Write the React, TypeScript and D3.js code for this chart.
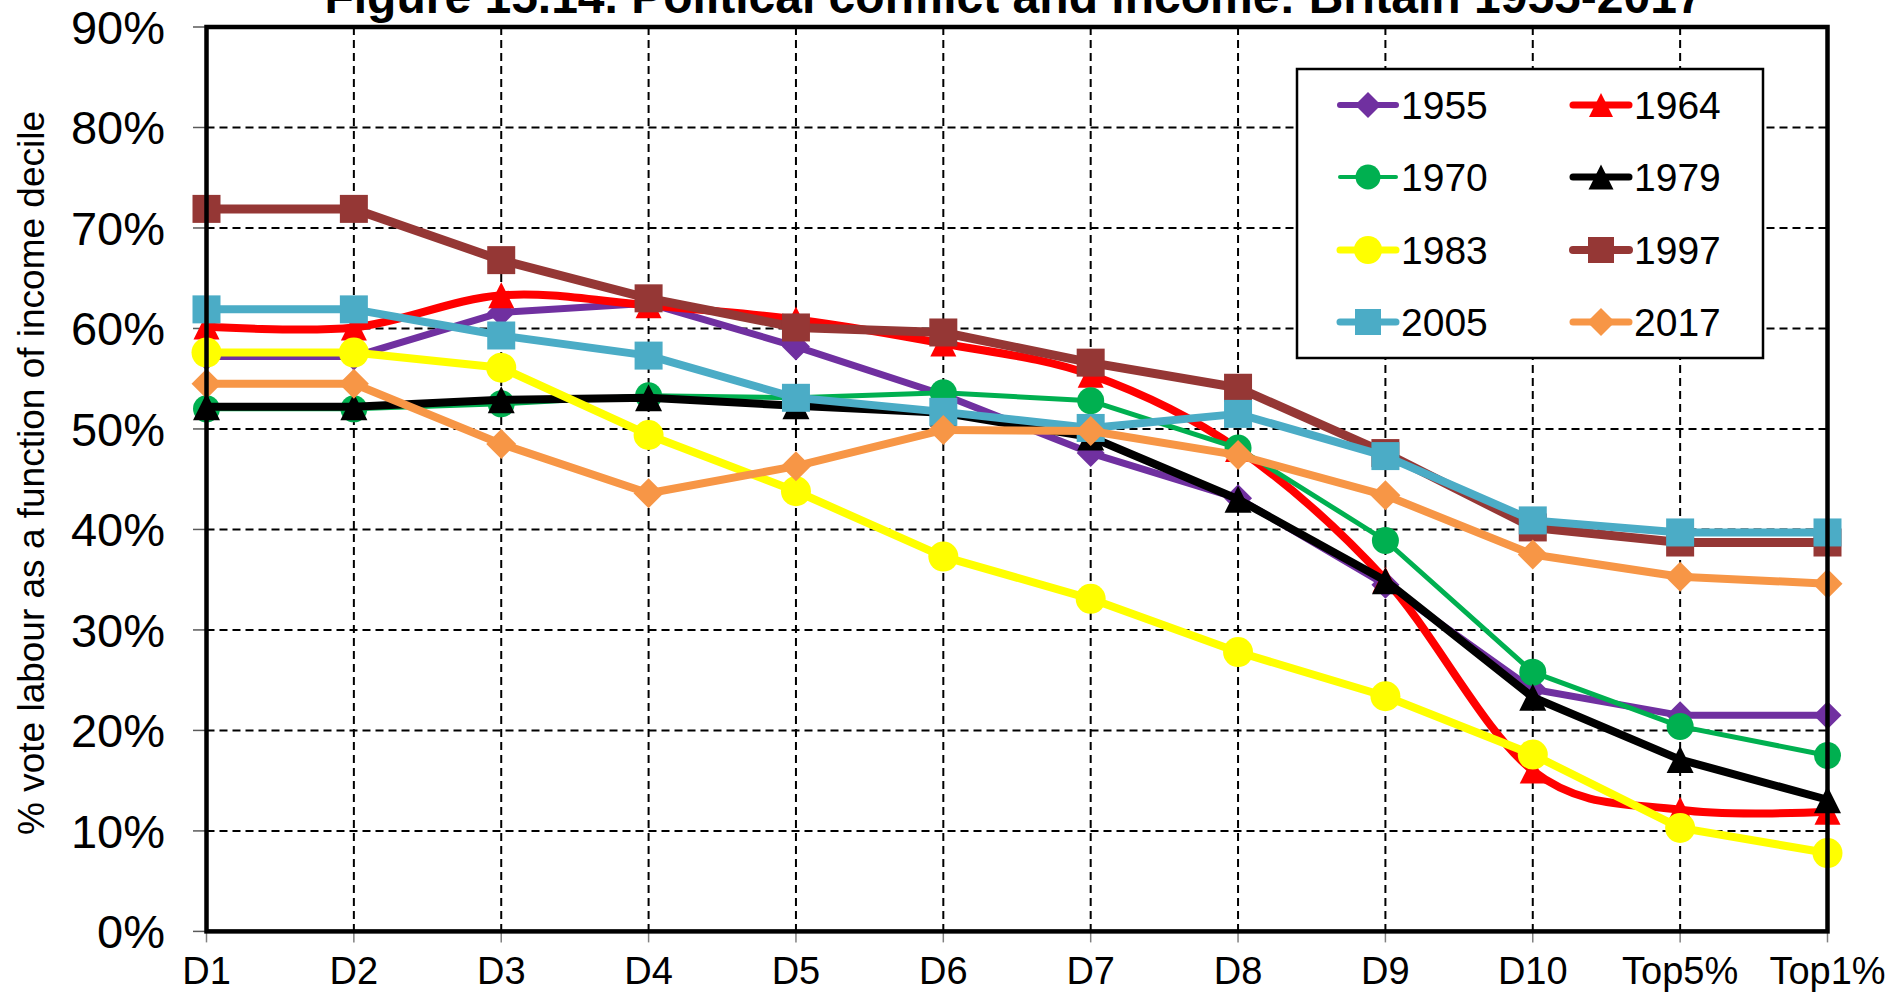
import React from 'react';
import * as d3 from 'd3';

const width = 1904;
const height = 993;

const categories = ['D1', 'D2', 'D3', 'D4', 'D5', 'D6', 'D7', 'D8', 'D9', 'D10', 'Top5%', 'Top1%'];
const years = ['1955', '1964', '1970', '1979', '1983', '1997', '2005', '2017'];

// % vote labour, per decile
const v1955 = [57.2, 57.2, 61.6, 62.5, 58.2, 53.4, 47.6, 43.1, 34.5, 24.1, 21.5, 21.5];
const v1964 = [60.2, 60.1, 63.3, 62.3, 60.9, 58.5, 55.4, 48.0, 35.0, 16.0, 12.1, 11.9];
const v1970 = [52.0, 52.0, 52.5, 53.3, 53.1, 53.6, 52.8, 48.1, 38.9, 25.8, 20.4, 17.5];
const v1979 = [52.2, 52.2, 52.9, 53.1, 52.3, 51.6, 49.2, 43.0, 34.9, 23.3, 17.1, 13.1];
const v1983 = [57.6, 57.6, 56.1, 49.4, 43.8, 37.3, 33.1, 27.8, 23.4, 17.6, 10.3, 7.8];
const v1997 = [71.9, 71.9, 66.8, 63.0, 60.1, 59.6, 56.6, 54.1, 47.6, 40.2, 38.7, 38.7];
const v2005 = [61.9, 61.9, 59.3, 57.3, 53.1, 51.7, 50.1, 51.5, 47.3, 40.9, 39.7, 39.7];
const v2017 = [54.5, 54.5, 48.5, 43.6, 46.3, 49.9, 49.8, 47.4, 43.4, 37.5, 35.3, 34.6];

const yTicks = [0, 10, 20, 30, 40, 50, 60, 70, 80, 90];

const seriesValues = [v1955, v1964, v1970, v1979, v1983, v1997, v2005, v2017];

// look of each series, same order as years
const styles = [
  { color: '#7030A0', marker: 'diamond', size: 28, lw: 7, smooth: false },
  { color: '#FF0000', marker: 'triangle', size: 26, lw: 8, smooth: true },
  { color: '#00B050', marker: 'circle', size: 27, lw: 5, smooth: false },
  { color: '#000000', marker: 'triangle', size: 27, lw: 8, smooth: false },
  { color: '#FFFF00', marker: 'circle', size: 30, lw: 8, smooth: false },
  { color: '#953735', marker: 'square', size: 28, lw: 9, smooth: false },
  { color: '#4BACC6', marker: 'square', size: 28, lw: 8, smooth: false },
  { color: '#F79646', marker: 'diamond', size: 30, lw: 8, smooth: false },
];

const font = '"Liberation Sans", Arial, sans-serif';

const left = 206.5;
const right = 1827.5;
const top = 27;
const bottom = 931.4;

const x = d3.scalePoint<string>().domain(categories).range([left, right]);
const y = d3.scaleLinear().domain([0, 90]).range([bottom, top]);

function markerPath(shape: string, s: number) {
  const h = s / 2;
  if (shape === 'diamond') return `M0,${-h}L${h},0L0,${h}L${-h},0Z`;
  if (shape === 'triangle') return `M0,${-h}L${h},${h}L${-h},${h}Z`;
  if (shape === 'square') return `M${-h},${-h}H${h}V${h}H${-h}Z`;
  return d3.arc()({ innerRadius: 0, outerRadius: h, startAngle: 0, endAngle: 2 * Math.PI }) as string;
}

const Marker = ({ cx, cy, st }: any) => (
  <path d={markerPath(st.marker, st.size)} transform={`translate(${cx},${cy})`} fill={st.color} />
);

const legendRows = [105, 177, 250, 322];
const legendCols = [1368, 1601];

export default function App() {
  return (
    <svg
      width={width}
      height={height}
      style={{ position: 'absolute', left: 0, top: 0, background: '#fff' }}
      fontFamily={font}
    >
      <rect width={width} height={height} fill="#fff" />

      {/* grid */}
      {yTicks.slice(1, -1).map((t) => (
        <line key={'gy' + t} x1={left} x2={right} y1={y(t)} y2={y(t)} stroke="#000" strokeWidth={2} strokeDasharray="8,5" />
      ))}
      {categories.slice(1, -1).map((c) => (
        <line key={'gx' + c} x1={x(c)} x2={x(c)} y1={top} y2={bottom} stroke="#000" strokeWidth={2} strokeDasharray="8,5" />
      ))}

      {/* ticks */}
      {yTicks.map((t) => (
        <line key={'ty' + t} x1={193} x2={left} y1={y(t)} y2={y(t)} stroke="#595959" strokeWidth={1.5} />
      ))}
      {categories.map((c) => (
        <line key={'tx' + c} x1={x(c)} x2={x(c)} y1={bottom} y2={bottom + 11} stroke="#808080" strokeWidth={1.5} />
      ))}

      {/* series */}
      {seriesValues.map((vals, i) => {
        const st = styles[i];
        const line = d3
          .line<number>()
          .x((_, j) => x(categories[j]) as number)
          .y((v) => y(v))
          .curve(st.smooth ? d3.curveCardinal.tension(0) : d3.curveLinear);
        return (
          <g key={years[i]}>
            <path d={line(vals) as string} fill="none" stroke={st.color} strokeWidth={st.lw} strokeLinejoin="round" strokeLinecap="round" />
            {vals.map((v, j) => (
              <Marker key={j} cx={x(categories[j])} cy={y(v)} st={st} />
            ))}
          </g>
        );
      })}

      {/* frame */}
      <rect x={left} y={top} width={right - left} height={bottom - top} fill="none" stroke="#000" strokeWidth={4.5} />

      {/* y labels */}
      {yTicks.map((t) => (
        <text key={'ly' + t} x={165} y={y(t)} dy="0.357em" textAnchor="end" fontSize={47} fill="#000">
          {t + '%'}
        </text>
      ))}
      {/* x labels */}
      {categories.map((c) => (
        <text key={'lx' + c} x={x(c)} y={984} textAnchor="middle" fontSize={38} fill="#000">
          {c}
        </text>
      ))}

      <text transform="translate(44,473) rotate(-90)" textAnchor="middle" fontSize={37} fill="#000">
        % vote labour as a function of income decile
      </text>

      <text x={1014} y={13} textAnchor="middle" fontSize={48} fontWeight="bold" fill="#000">
        Figure 15.14. Political conflict and income: Britain 1955-2017
      </text>

      {/* legend */}
      <rect x={1297} y={69} width={466} height={289} fill="#fff" stroke="#000" strokeWidth={2.5} />
      {years.map((yr, i) => {
        const st = styles[i];
        const cx = legendCols[i % 2];
        const cy = legendRows[Math.floor(i / 2)];
        return (
          <g key={'lg' + yr}>
            <line x1={cx - 28} x2={cx + 28} y1={cy} y2={cy} stroke={st.color} strokeWidth={st.lw - 1} strokeLinecap="round" />
            <Marker cx={cx} cy={cy} st={{ ...st, size: st.size - 2 }} />
            <text x={cx + 33} y={cy + 14} fontSize={39} fill="#000">
              {yr}
            </text>
          </g>
        );
      })}
    </svg>
  );
}
